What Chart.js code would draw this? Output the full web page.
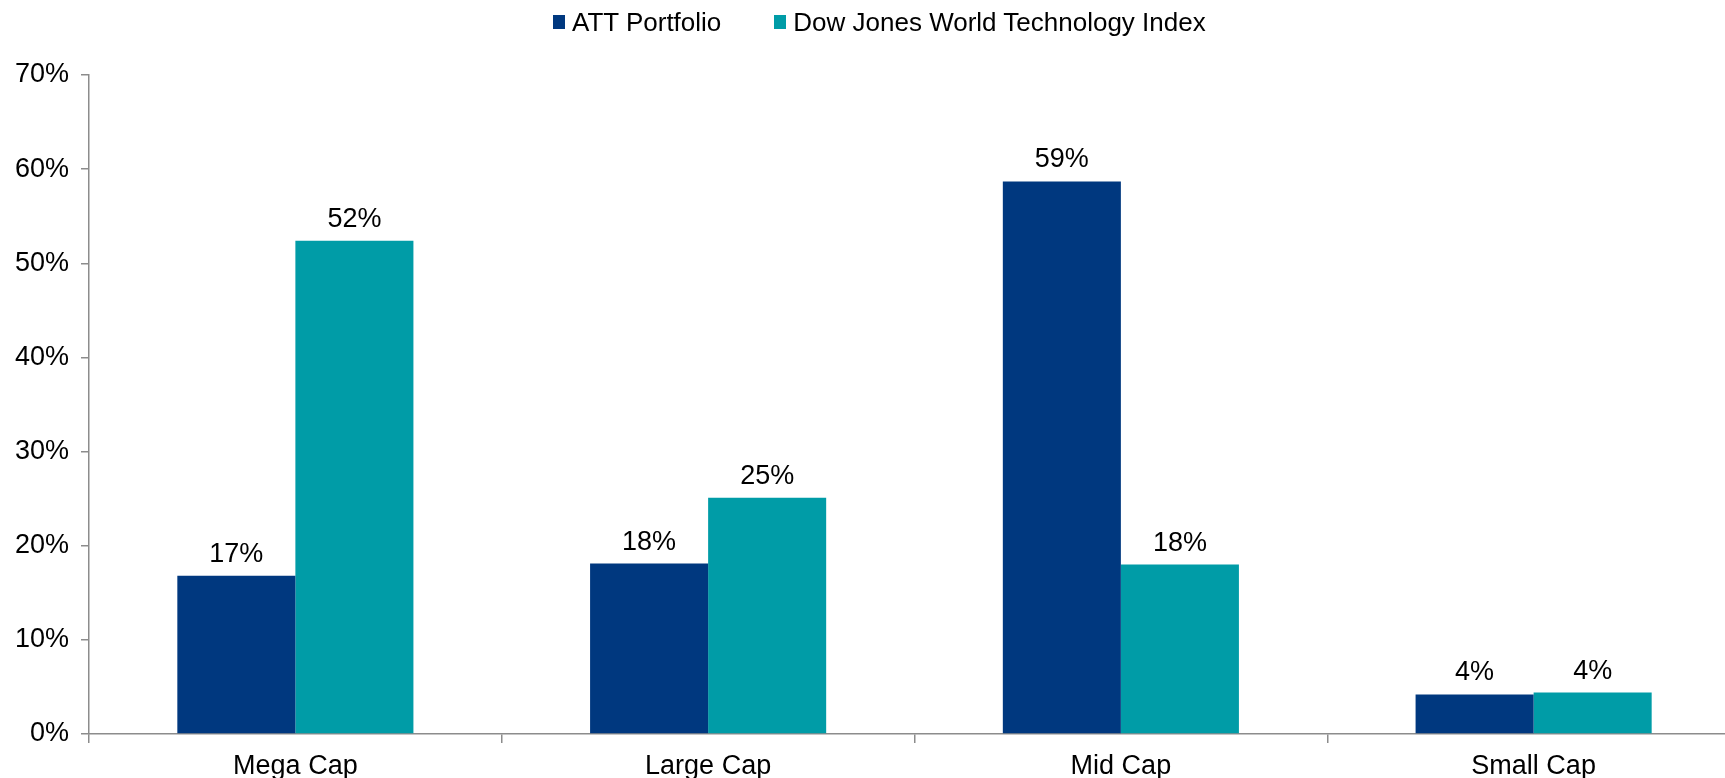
<!DOCTYPE html>
<html>
<head>
<meta charset="utf-8">
<script src="https://cdn.jsdelivr.net/npm/chart.js@4.4.0/dist/chart.umd.min.js"></script>
<style>
  html, body { margin: 0; padding: 0; background: #fff; overflow: hidden; width: 1725px; height: 778px; }
  #wrap { position: relative; width: 1745px; height: 800px; }
  #legende { position: absolute; left: 553px; top: 5px; display: flex; font-family: "Liberation Sans", Arial, sans-serif; font-size: 26px; color: #000; line-height: 34px; }
  .item { display: flex; align-items: center; margin-right: 53px; }
  .boite { width: 12px; height: 14px; margin-right: 7px; }
</style>
</head>
<body>
<div id="wrap">
  <div id="legende"></div>
  <canvas id="monGraphique" width="1745" height="800"></canvas>
</div>
<script>
// Données
const categories = ['Mega Cap', 'Large Cap', 'Mid Cap', 'Small Cap'];
const attPortfolio = [16.8, 18.1, 58.7, 4.2];
const dowJonesTech = [52.4, 25.1, 18.0, 4.4];
const nomsSeries = ['ATT Portfolio', 'Dow Jones World Technology Index'];
const couleurs = ['#00387F', '#009CA7'];

const police = { family: '"Liberation Sans", Arial, sans-serif', size: 27 };
const gris = '#8c8c8c';

// Légende en HTML
const legende = document.getElementById('legende');
nomsSeries.forEach((nom, i) => {
  const item = document.createElement('div');
  item.className = 'item';
  item.innerHTML = `<span class="boite" style="background:${couleurs[i]}"></span><span>${nom}</span>`;
  legende.appendChild(item);
});

// Étiquettes au-dessus des barres
const etiquettesBarres = {
  id: 'etiquettesBarres',
  afterDatasetsDraw(chart) {
    const ctx = chart.ctx;
    ctx.save();
    ctx.font = '27px "Liberation Sans", Arial, sans-serif';
    ctx.fillStyle = '#000';
    ctx.textAlign = 'center';
    ctx.textBaseline = 'alphabetic';
    chart.data.datasets.forEach((ds, i) => {
      chart.getDatasetMeta(i).data.forEach((barre, j) => {
        ctx.fillText(Math.round(ds.data[j]) + '%', barre.x, barre.y - 14);
      });
    });
    ctx.restore();
  }
};

const ctx = document.getElementById('monGraphique').getContext('2d');
const monGraphique = new Chart(ctx, {
  type: 'bar',
  data: {
    labels: categories,
    datasets: [{
      label: nomsSeries[0],
      data: attPortfolio,
      backgroundColor: couleurs[0],
      categoryPercentage: 0.572,
      barPercentage: 1
    }, {
      label: nomsSeries[1],
      data: dowJonesTech,
      backgroundColor: couleurs[1],
      categoryPercentage: 0.572,
      barPercentage: 1
    }]
  },
  options: {
    responsive: false,
    animation: false,
    layout: { padding: { top: 75, right: 5, left: 0, bottom: 0 } },
    plugins: {
      legend: { display: false },
      tooltip: { enabled: false }
    },
    scales: {
      x: {
        grid: { drawOnChartArea: false, offset: true, tickLength: 9, color: gris, lineWidth: 1.5 },
        border: { color: gris, width: 1.5 },
        ticks: { font: police, color: '#000', padding: 7 },
        afterFit: s => { s.height = 66; }
      },
      y: {
        min: 0,
        max: 70,
        ticks: { stepSize: 10, callback: v => v + '%', font: police, color: '#000', padding: 12 },
        grid: { drawOnChartArea: false, tickLength: 8, color: gris, lineWidth: 1.5 },
        border: { color: gris, width: 1.5 },
        afterFit: s => { s.width = 89; }
      }
    }
  },
  plugins: [etiquettesBarres]
});
</script>
</body>
</html>
